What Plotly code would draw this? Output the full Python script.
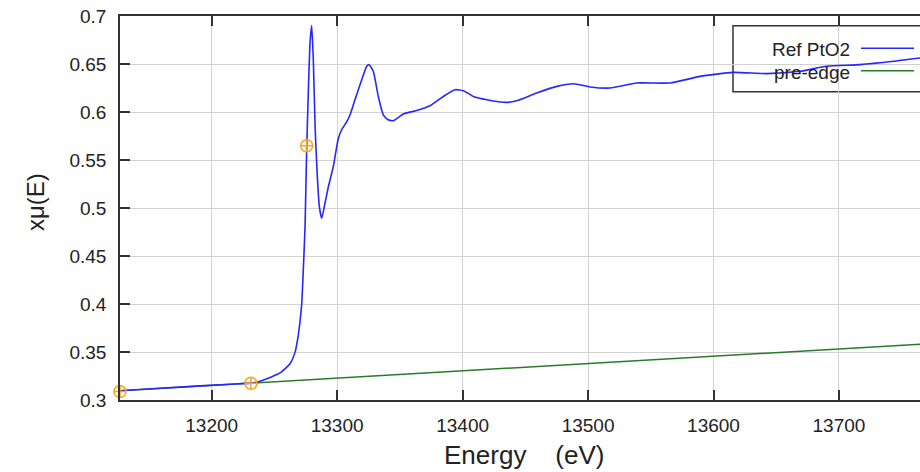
import plotly.graph_objects as go

# ---------------- data ----------------
energy = [13126.9, 13158.8, 13190.7, 13215.0, 13231.3, 13238.5, 13246.5, 13254.5,
          13262.4, 13266.4, 13269.0, 13270.4, 13271.8, 13273.0, 13274.4, 13275.7,
          13277.0, 13278.4, 13279.7, 13281.0, 13282.4, 13284.2, 13285.8, 13287.7,
          13290.3, 13293.0, 13296.9, 13300.9, 13303.6, 13307.6, 13310.3, 13314.2,
          13319.6, 13323.6, 13325.4, 13328.8, 13332.8, 13336.8, 13340.6, 13344.8,
          13352.8, 13363.4, 13374.0, 13384.6, 13394.0, 13400.6, 13408.6, 13419.2,
          13435.2, 13443.2, 13459.1, 13475.1, 13488.3, 13501.6, 13517.6, 13538.8,
          13565.4, 13589.3, 13615.8, 13642.5, 13669.0, 13690.3, 13716.9, 13743.4,
          13764.6, 13780.0]
mu = [0.3097, 0.3122, 0.3147, 0.3164, 0.3176, 0.3196, 0.3235, 0.3282,
      0.3378, 0.3496, 0.3674, 0.3820, 0.4010, 0.4352, 0.4805, 0.5606,
      0.6201, 0.6723, 0.6901, 0.6546, 0.5849, 0.5327, 0.5014, 0.4892,
      0.5052, 0.5222, 0.5431, 0.5721, 0.5815, 0.5898, 0.5971, 0.6128,
      0.6337, 0.6476, 0.6493, 0.6424, 0.6162, 0.5971, 0.5919, 0.5909,
      0.5979, 0.6016, 0.6065, 0.6162, 0.6232, 0.6222, 0.6162, 0.6128,
      0.6100, 0.6117, 0.6198, 0.6267, 0.6295, 0.6261, 0.6250, 0.6302,
      0.6302, 0.6371, 0.6413, 0.6400, 0.6424, 0.6476, 0.6493, 0.6528,
      0.6563, 0.6580]

pre_energy = [13126.0, 13200.0, 13300.0, 13400.0, 13500.0, 13600.0, 13700.0, 13790.0]
pre_mu = [0.3096, 0.3152, 0.3228, 0.3304, 0.3380, 0.3456, 0.3532, 0.3600]

marker_energy = [13126.9, 13231.3, 13275.7]
marker_mu = [0.3089, 0.3175, 0.5648]

x_tick_vals = [13200, 13300, 13400, 13500, 13600, 13700]
x_tick_labels = ["13200", "13300", "13400", "13500", "13600", "13700"]
y_tick_vals = [0.3, 0.35, 0.4, 0.45, 0.5, 0.55, 0.6, 0.65, 0.7]
y_tick_labels = ["0.3", "0.35", "0.4", "0.45", "0.5", "0.55", "0.6", "0.65", "0.7"]

series_names = ["Ref PtO2", "pre-edge"]

# ---------------- layout helpers ----------------
W, H = 920, 472
ML, MR, MT, MB = 120, 0, 16, 72
PW, PH = W - ML - MR, H - MT - MB


def px(xp):
    return (xp - ML) / PW


def py(yp):
    return (H - MB - yp) / PH


FONT = "Liberation Sans, Arial, sans-serif"
BLUE = "#2626ff"
GREEN = "#2b7a2b"
ORANGE = "#f7a21b"
AXIS = "#333333"
TXT = "#222222"

fig = go.Figure()
fig.add_trace(go.Scatter(x=pre_energy, y=pre_mu, mode="lines", name=series_names[1],
                         line=dict(color=GREEN, width=1.5)))
fig.add_trace(go.Scatter(x=energy, y=mu, mode="lines", name=series_names[0],
                         line=dict(color=BLUE, width=1.6, shape="spline", smoothing=0.5)))
fig.add_trace(go.Scatter(x=marker_energy, y=marker_mu, mode="markers", showlegend=False,
                         marker=dict(symbol="circle-cross-open", size=12, color=ORANGE,
                                     line=dict(width=1.5, color=ORANGE)),
                         cliponaxis=False))

# legend (drawn manually: opaque box clipped by the right edge)
shapes = [
    dict(type="rect", xref="paper", yref="paper", x0=px(733), x1=px(945), y0=py(91.7), y1=py(25.7),
         fillcolor="white", line=dict(color=AXIS, width=1.5), layer="between"),
    dict(type="line", xref="paper", yref="paper", x0=px(861), x1=px(914), y0=py(48.3), y1=py(48.3),
         line=dict(color=BLUE, width=1.5)),
    dict(type="line", xref="paper", yref="paper", x0=px(861), x1=px(914), y0=py(70.7), y1=py(70.7),
         line=dict(color=GREEN, width=1.5)),
]
annotations = [
    dict(text=series_names[0], xref="paper", yref="paper", x=px(852), y=py(49), xanchor="right",
         yanchor="middle", showarrow=False, font=dict(family=FONT, size=19, color=TXT)),
    dict(text=series_names[1], xref="paper", yref="paper", x=px(852), y=py(72), xanchor="right",
         yanchor="middle", showarrow=False, font=dict(family=FONT, size=19, color=TXT)),
    dict(text="Energy\u00a0\u00a0\u00a0\u00a0(eV)", xref="paper", yref="paper", x=px(524), y=py(455),
         xanchor="center", yanchor="middle", showarrow=False,
         font=dict(family=FONT, size=26, color=TXT)),
    dict(text="xμ(E)", xref="paper", yref="paper", x=px(35), y=py(202), textangle=-90,
         xanchor="center", yanchor="middle", showarrow=False,
         font=dict(family=FONT, size=24, color=TXT)),
]

fig.update_layout(
    width=W, height=H,
    margin=dict(l=ML, r=MR, t=MT, b=MB, pad=0),
    paper_bgcolor="white", plot_bgcolor="white",
    showlegend=False,
    font=dict(family=FONT, color=TXT),
    shapes=shapes, annotations=annotations,
)
fig.update_xaxes(range=[13126.9, 13764.6], tickvals=x_tick_vals, ticktext=x_tick_labels,
                 ticks="inside", ticklen=10, tickwidth=1.5, tickcolor=AXIS,
                 showline=True, linecolor=AXIS, linewidth=1.5, mirror="ticks",
                 showgrid=True, gridcolor="#d2d2d2", gridwidth=1, zeroline=False,
                 tickfont=dict(family=FONT, size=19, color=TXT), ticklabelstandoff=7)
fig.update_yaxes(range=[0.3, 0.7], tickvals=y_tick_vals, ticktext=y_tick_labels,
                 ticks="inside", ticklen=10, tickwidth=1.5, tickcolor=AXIS,
                 showline=True, linecolor=AXIS, linewidth=1.5, mirror=False,
                 showgrid=True, gridcolor="#d2d2d2", gridwidth=1, zeroline=False,
                 tickfont=dict(family=FONT, size=19, color=TXT), ticklabelstandoff=8)

fig.write_html("out.html")
